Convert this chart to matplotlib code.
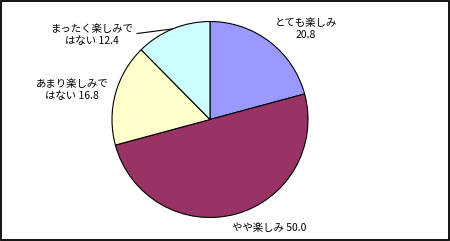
import matplotlib
matplotlib.use("Agg")
import matplotlib.pyplot as plt
from matplotlib.patches import Rectangle

plt.rcParams['font.family'] = ['Noto Sans CJK JP', 'DejaVu Sans']

categories = ["とても楽しみ", "やや楽しみ", "あまり楽しみで\nはない", "まったく楽しみで\nはない"]
values = [20.8, 50.0, 16.8, 12.4]
colors = ["#9999FF", "#993366", "#FFFFCC", "#CCFFFF"]

W, H = 450, 241
fig = plt.figure(figsize=(W / 100, H / 100), dpi=100)

cx, cy, r = 210, 119.5, 98
ax = fig.add_axes([(cx - r) / W, (H - cy - r) / H, 2 * r / W, 2 * r / H])
wedges, _ = ax.pie(values, colors=colors, startangle=90, counterclock=False,
                   radius=1.0, wedgeprops=dict(edgecolor="black", linewidth=0.8))
ax.set_xlim(-1, 1)
ax.set_ylim(-1, 1)
ax.set_aspect('equal', adjustable='box')
ax.axis('off')

def fmt(cat, v):
    if cat.endswith("\nはない"):
        return f"{cat} {v:.1f}"
    if cat == "とても楽しみ":
        return f"{cat}\n{v:.1f}"
    return f"{cat} {v:.1f}"

# label positions in pixels (x, y of center)
label_pos = [(306, 29), (269, 228), (72, 89.5), (92, 35)]
for cat, v, (px, py) in zip(categories, values, label_pos):
    fig.text(px / W, 1 - py / H, fmt(cat, v), ha='center', va='center',
             fontsize=7.5, linespacing=1.25, color='black')

# leader line for the smallest slice
fig.add_artist(plt.Line2D([137 / W, 172 / W], [1 - 33.5 / H, 1 - 29 / H],
                          color='black', linewidth=0.8, transform=fig.transFigure))

# outer frame
fig.add_artist(Rectangle((0.75 / W, 1.5 / H), (W - 2.0) / W, (H - 2.2) / H,
                         fill=False, edgecolor='black', linewidth=1.3,
                         transform=fig.transFigure))

fig.savefig("out.png", dpi=100)
